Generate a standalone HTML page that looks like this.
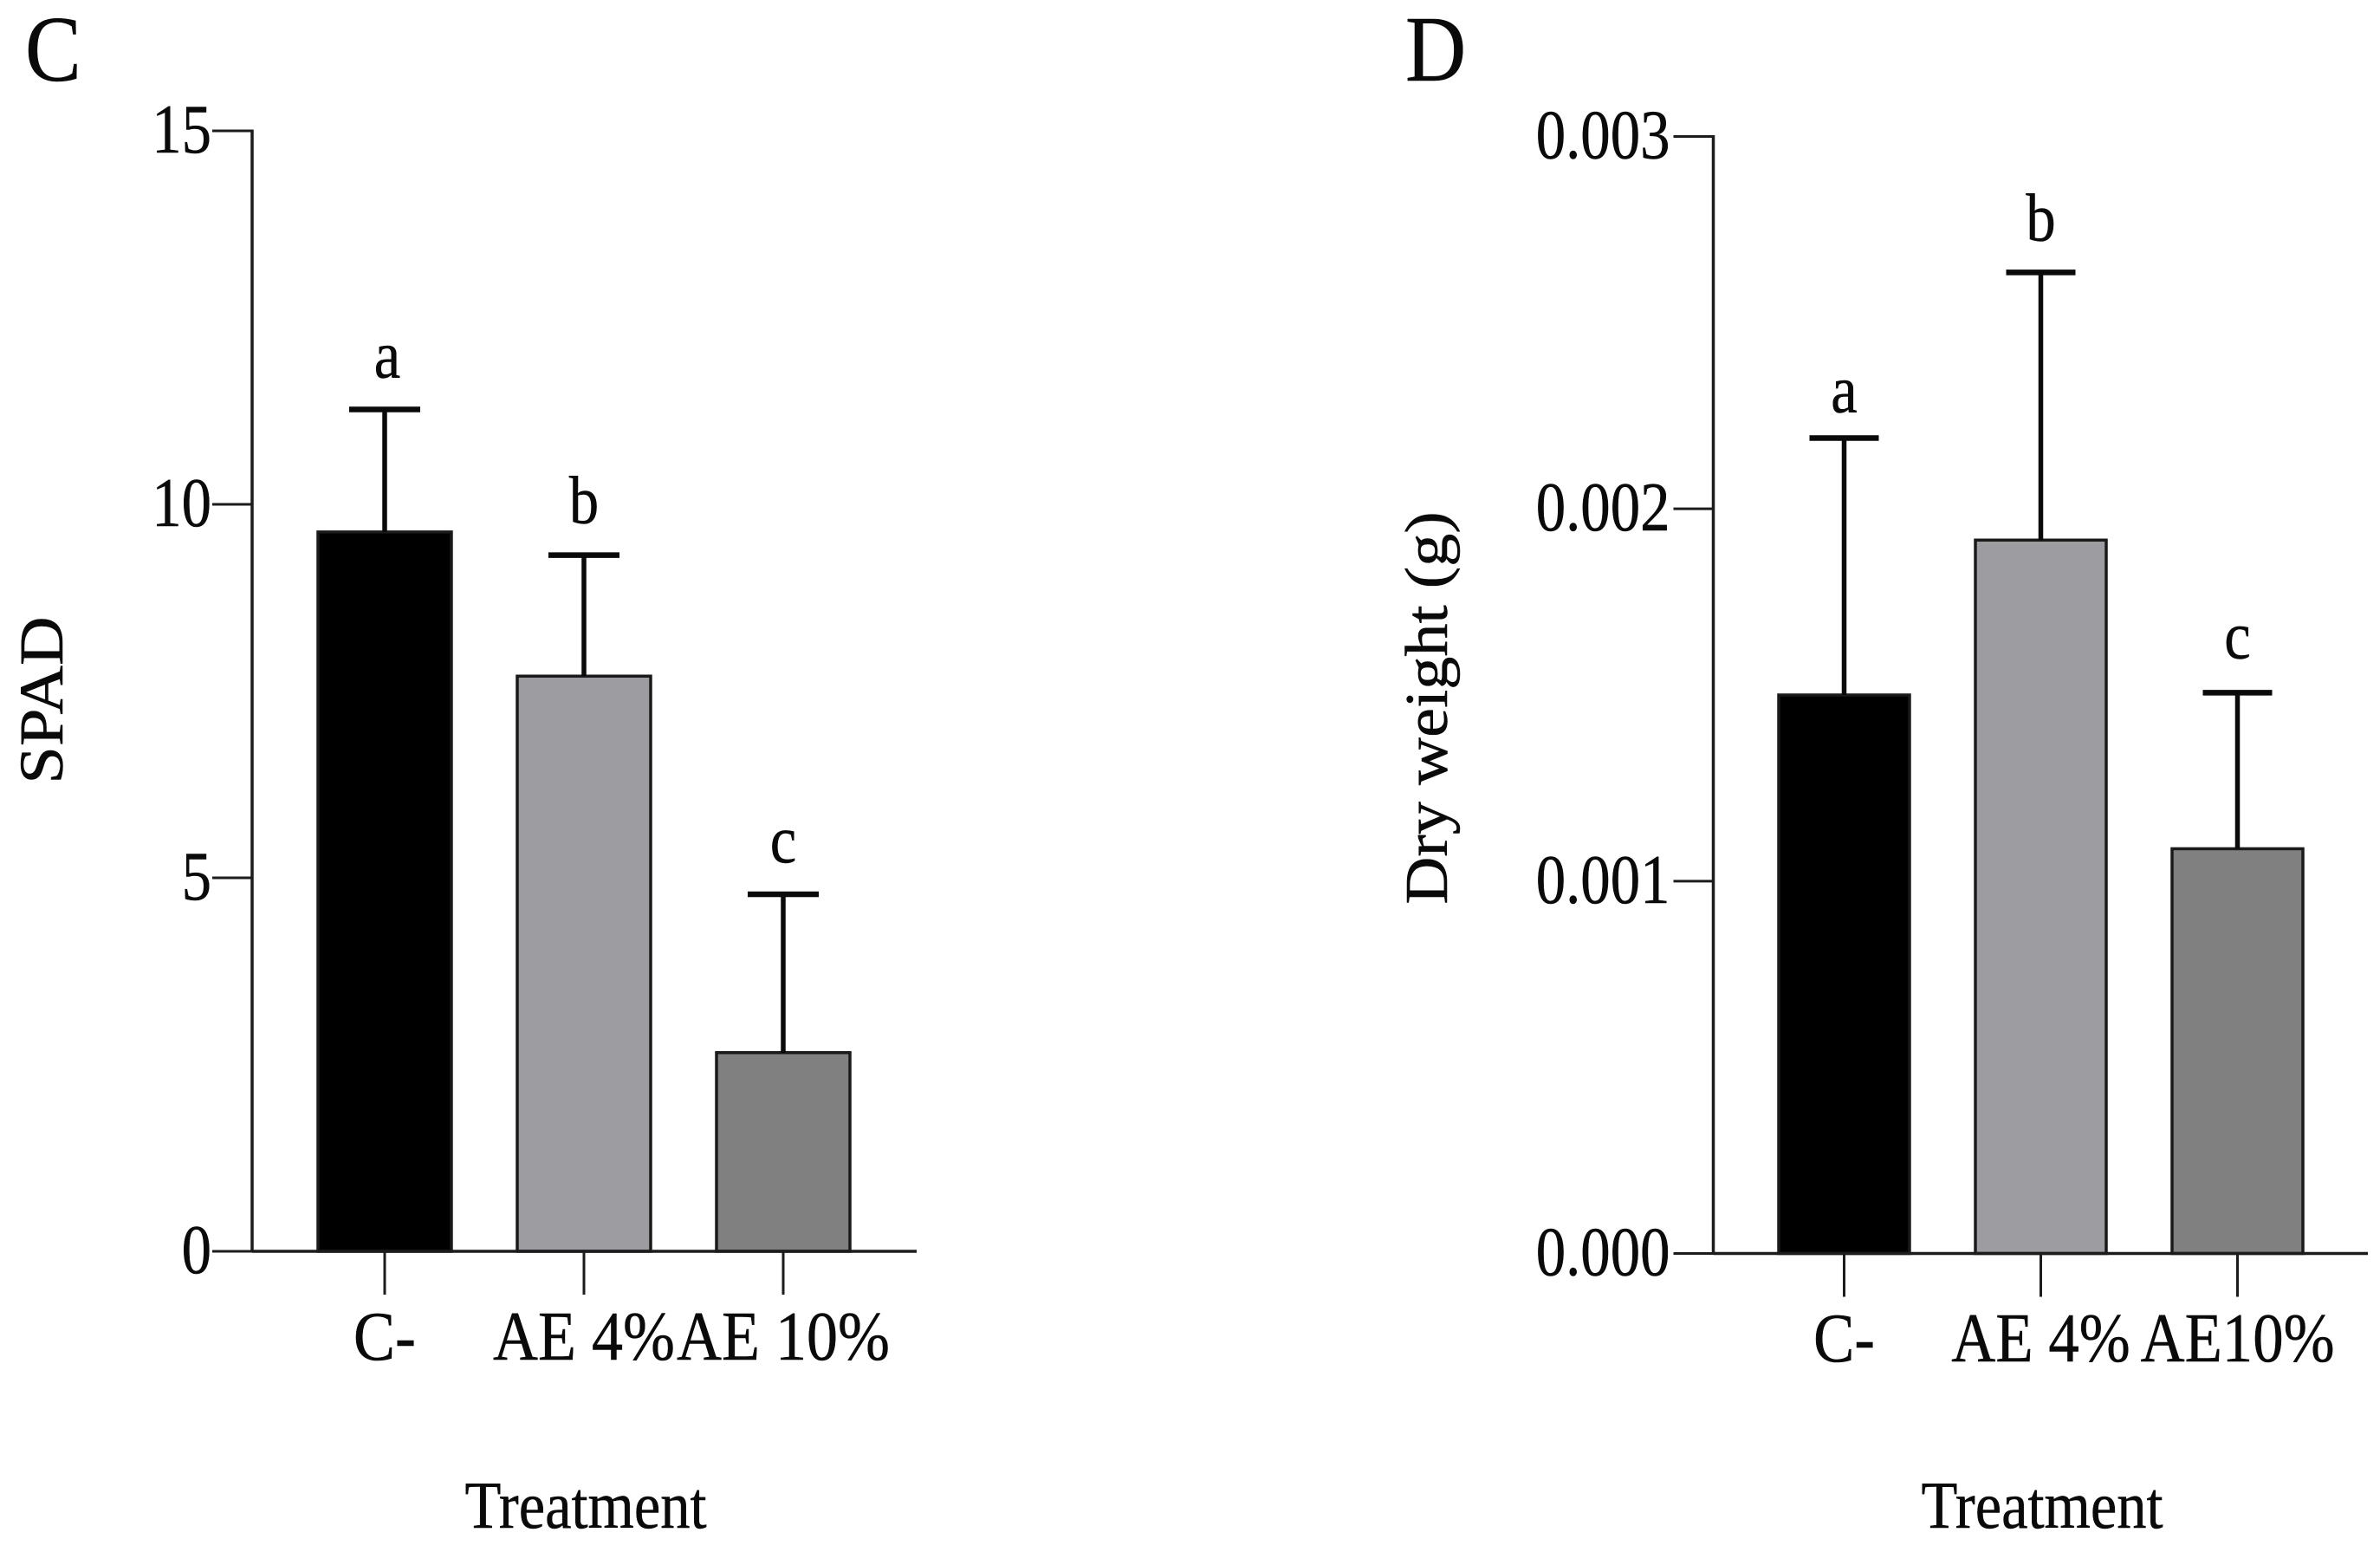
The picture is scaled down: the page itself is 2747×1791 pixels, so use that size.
<!DOCTYPE html>
<html lang="en">
<head>
<meta charset="utf-8">
<title>SPAD and dry weight by treatment</title>
<style>
html,body{margin:0;padding:0;background:#fff;}
svg{display:block;}
text{font-family:"Liberation Serif",serif;fill:#0a0a0a;stroke:#0a0a0a;stroke-width:0.5px;}
</style>
</head>
<body>
<svg id="figure" xmlns="http://www.w3.org/2000/svg" width="2747" height="1791" viewBox="0 0 2747 1791">
<rect x="0" y="0" width="2747" height="1791" fill="#ffffff"/>
</svg>
<script>
// Panel C data
const cCategories = ['C-', 'AE 4%', 'AE 10%'];
const cMeans = [9.63, 7.7, 2.66];
const cErrorTops = [11.27, 9.32, 4.78];
const cLetters = ['a', 'b', 'c'];
const cTicks = [0, 5, 10, 15];
const cTickLabels = ['0', '5', '10', '15'];

// Panel D data
const dCategories = ['C-', 'AE 4%', 'AE10%'];
const dMeans = [0.0015, 0.001916, 0.001087];
const dErrorTops = [0.00219, 0.002635, 0.001506];
const dLetters = ['a', 'b', 'c'];
const dTicks = [0, 0.001, 0.002, 0.003];
const dTickLabels = ['0.000', '0.001', '0.002', '0.003'];

const barColors = ['#000000', '#9d9da1', '#808080'];
const svg = document.getElementById('figure');
const NS = 'http://www.w3.org/2000/svg';

function line(parent, x1, y1, x2, y2, w, color, name) {
  const el = document.createElementNS(NS, 'line');
  el.setAttribute('x1', x1);
  el.setAttribute('y1', y1);
  el.setAttribute('x2', x2);
  el.setAttribute('y2', y2);
  el.setAttribute('stroke', color);
  el.setAttribute('stroke-width', w);
  
  
  parent.appendChild(el);
}

function label(parent, str, x, y, size, sx, anchor, rot, name) {
  const el = document.createElementNS(NS, 'text');
  el.textContent = str;
  el.setAttribute('font-size', size);
  el.setAttribute('text-anchor', anchor);
  el.setAttribute('transform', 'translate(' + x + ',' + y + ') rotate(' + rot + ') scale(' + sx + ',1)');
  
  
  parent.appendChild(el);
}

function panel(cfg) {
  const g = document.createElementNS(NS, 'g');
  
  
  svg.appendChild(g);

  const y = v => cfg.y0 - (v / cfg.yMax) * (cfg.y0 - cfg.yTop);
  const x = i => cfg.x0 + cfg.step * i;
  const axisColor = '#1c1c1c';

  // bars
  cfg.means.forEach((m, i) => {
    const top = y(m);
    const el = document.createElementNS(NS, 'rect');
    el.setAttribute('x', x(i) - cfg.barW / 2);
    el.setAttribute('y', top);
    el.setAttribute('width', cfg.barW);
    el.setAttribute('height', cfg.y0 - top);
    el.setAttribute('fill', barColors[i]);
    el.setAttribute('stroke', '#1a1a1a');
    el.setAttribute('stroke-width', 3.5);
    
    
    g.appendChild(el);
    line(g, x(i), top, x(i), y(cfg.errTops[i]), 5.5, '#0a0a0a', 'error-stem-' + cfg.categories[i]);
    line(g, x(i) - cfg.capW / 2, y(cfg.errTops[i]), x(i) + cfg.capW / 2, y(cfg.errTops[i]), 6.5, '#0a0a0a', 'error-cap-' + cfg.categories[i]);
    label(g, cfg.letters[i], x(i) + cfg.letterDx[i], y(cfg.errTops[i]) - cfg.letterGap[i], 78, 0.88, 'middle', 0, 'significance-letter-' + cfg.letters[i]);
    line(g, x(i), cfg.y0, x(i), cfg.y0 + 50, 3, axisColor, 'x-tick-' + cfg.categories[i]);
    label(g, cfg.categories[i], x(i) + cfg.catDx[i], cfg.catY, 80, cfg.catSx, 'middle', 0, 'x-tick-label-' + cfg.categories[i]);
  });

  // axes
  line(g, cfg.axisX, y(cfg.yMax) - 1.5, cfg.axisX, cfg.y0 + 1.5, 3.5, axisColor, 'y-axis-line');
  line(g, cfg.axisX, cfg.y0, cfg.axisEnd, cfg.y0, 3.5, axisColor, 'x-axis-line');
  cfg.ticks.forEach((t, i) => {
    line(g, cfg.axisX - 46, y(t), cfg.axisX, y(t), 3, axisColor, 'y-tick-' + cfg.tickLabels[i]);
    label(g, cfg.tickLabels[i], cfg.axisX - cfg.tickGap, y(t) + 25, 80, 0.86, 'end', 0, 'y-tick-label-' + cfg.tickLabels[i]);
  });

  label(g, cfg.panelLetter, cfg.letterX, 93, 108, 0.9, 'start', 0, 'panel-label-' + cfg.panelLetter);
  label(g, 'Treatment', cfg.titleX, cfg.titleY, 77, 0.89, 'middle', 0, 'x-axis-title');
  label(g, cfg.yTitle, cfg.yTitleX, cfg.yTitleY, cfg.yTitleSize, cfg.yTitleSx, 'middle', -90, 'y-axis-title');
}

panel({
  id: 'panel-c', panelLetter: 'C', letterX: 29,
  categories: cCategories, means: cMeans, errTops: cErrorTops, letters: cLetters,
  ticks: cTicks, tickLabels: cTickLabels, yMax: 15,
  y0: 1444, yTop: 151, x0: 444, step: 230, barW: 154, capW: 82,
  axisX: 291, axisEnd: 1058, letterGap: [37, 37, 37], letterDx: [3, 0, 0],
  catDx: [0, 0, 0], catY: 1569, catSx: 0.9, tickGap: 47,
  titleX: 676, titleY: 1763,
  yTitle: 'SPAD', yTitleX: 72, yTitleY: 808, yTitleSize: 72, yTitleSx: 1.09
});

panel({
  id: 'panel-d', panelLetter: 'D', letterX: 1622,
  categories: dCategories, means: dMeans, errTops: dErrorTops, letters: dLetters,
  ticks: dTicks, tickLabels: dTickLabels, yMax: 0.003,
  y0: 1446.5, yTop: 157.5, x0: 2128.5, step: 227, barW: 151, capW: 80,
  axisX: 1977.5, axisEnd: 2733, letterGap: [30, 37, 40], letterDx: [0, 0, 0],
  catDx: [0, 0, 0], catY: 1571, catSx: 0.885, tickGap: 50,
  titleX: 2357, titleY: 1763,
  yTitle: 'Dry weight (g)', yTitleX: 1670, yTitleY: 817, yTitleSize: 70, yTitleSx: 1.09
});
</script>
</body>
</html>
